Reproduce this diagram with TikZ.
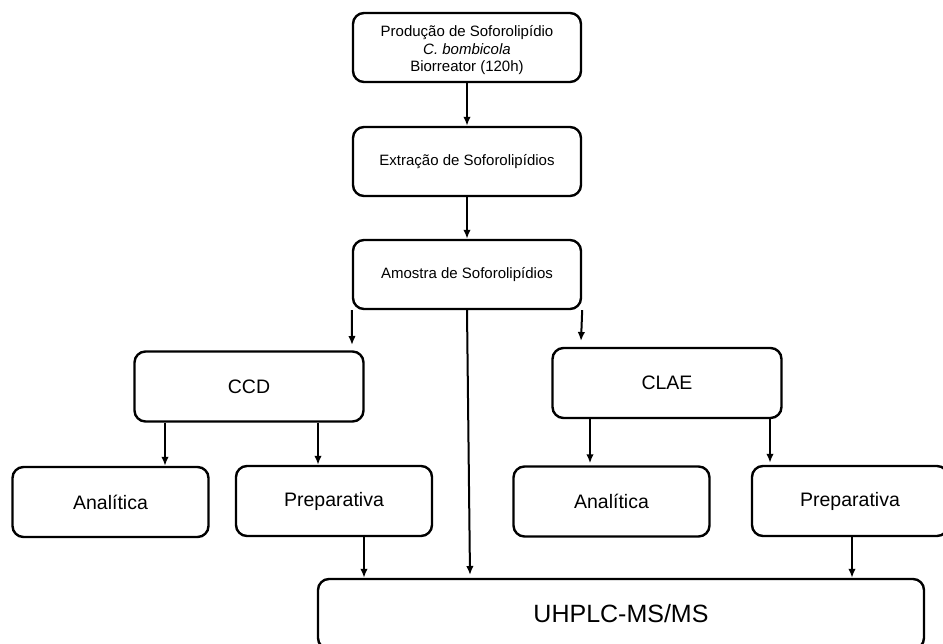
\documentclass[tikz,border=0pt]{standalone}
\usepackage{fontspec}
\setmainfont{Liberation Sans}
\usetikzlibrary{arrows.meta}

\begin{document}
\begin{tikzpicture}[x=1pt, y=-1pt]
    \tikzset{box/.style={draw=black, line width=2.4pt, rounded corners=11pt, inner sep=0pt, align=center, font=\fontsize{15}{17.5}\selectfont}}
    \tikzset{main box/.style={box, minimum width=228pt, minimum height=69pt}}
    \tikzset{method box/.style={box, minimum width=229pt, minimum height=70pt, font=\fontsize{19.5}{22}\selectfont}}
    \tikzset{mode box/.style={box, minimum width=196pt, minimum height=70pt, font=\fontsize{19.5}{22}\selectfont}}
    \tikzset{flow/.style={-{Latex[length=9pt, width=7.5pt]}, line width=2pt}}

    % frame
    \useasboundingbox (0,0) rectangle (943,644);

    % main column
    \node (producao) at (467,47.5)  [main box] {\rule{0pt}{17pt}Produção de Soforolipídio\\ \textit{C. bombicola}\\ Biorreator (120h)};
    \node (extracao) at (467,161.5) [main box] {Extração de Soforolipídios};
    \node (amostra)  at (467,274.5) [main box] {Amostra de Soforolipídios};

    % methods
    \node (ccd)  at (249,386.5) [method box] {CCD};
    \node (clae) at (667,383)   [method box] {CLAE};

    % modes
    \node (ccd analitica)  at (110.5,502) [mode box] {Analítica};
    \node (ccd prep)       at (334,501)   [mode box] {Preparativa};
    \node (clae analitica) at (611.5,501.5) [mode box] {Analítica};
    \node (clae prep)      at (850,501)   [mode box] {Preparativa};

    % detection
    \node (uhplc) at (621,614) [box, minimum width=606pt, minimum height=70pt, font=\fontsize{25}{28}\selectfont] {UHPLC-MS/MS};

    % free arrow ends
    \coordinate (ccd in)   at (352,345);
    \coordinate (clae in)  at (581,341);
    \coordinate (uhplc in) at (470,575);
    \coordinate (ccd out1)  at ([xshift=-84pt]ccd.south);
    \coordinate (ccd out2)  at ([xshift=69pt]ccd.south);
    \coordinate (clae out1) at ([xshift=-77pt]clae.south);
    \coordinate (clae out2) at ([xshift=103pt]clae.south);
    \coordinate (prep out1) at ([xshift=30pt]ccd prep.south);
    \coordinate (prep out2) at ([xshift=2pt]clae prep.south);

    % arrows
    \draw[flow] (producao) -- (extracao);
    \draw[flow] (extracao) -- (amostra);
    \draw[flow] (amostra.south west) -- (ccd in);
    \draw[flow] (amostra.south east) -- (clae in);
    \draw[flow] (amostra.south) -- (uhplc in);
    \draw[flow] (ccd out1) -- (ccd out1 |- ccd analitica.north);
    \draw[flow] (ccd out2) -- (ccd out2 |- ccd prep.north);
    \draw[flow] (clae out1) -- ([yshift=2pt]clae out1 |- clae analitica.north);
    \draw[flow] (clae out2) -- ([yshift=2pt]clae out2 |- clae prep.north);
    \draw[flow] (prep out1) -- (prep out1 |- uhplc.north);
    \draw[flow] (prep out2) -- (prep out2 |- uhplc.north);

\end{tikzpicture}
\end{document}
